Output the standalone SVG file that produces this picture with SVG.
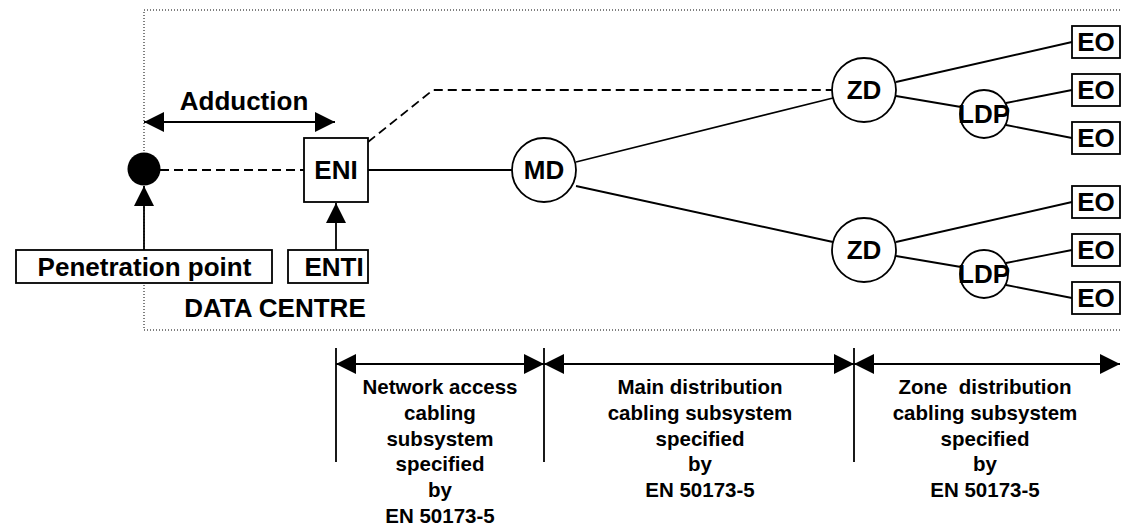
<svg xmlns="http://www.w3.org/2000/svg" width="1122" height="526" viewBox="0 0 1122 526">
<style>
.t{font-family:"Liberation Sans",Arial,sans-serif;font-weight:bold;fill:#000;text-anchor:middle}
.n{font-size:26px}
.s{font-size:20.5px;white-space:pre}
.ln{stroke:#000;stroke-width:1.8;fill:none}
.ds{stroke:#000;stroke-width:1.8;fill:none;stroke-dasharray:9 5}
.bx{fill:#fff;stroke:#000;stroke-width:1.8}
</style>
<defs>
<marker id="ah" markerUnits="userSpaceOnUse" markerWidth="20" markerHeight="20" refX="20" refY="10" orient="auto-start-reverse">
<path d="M0,0 L20,10 L0,20 z" fill="#000"/>
</marker>
</defs>
<rect x="144" y="10" width="1000" height="320" fill="none" stroke="#000" stroke-width="1" stroke-dasharray="1 2"/>
<g id="connectors">
<line class="ln" x1="144" y1="122" x2="335" y2="122" marker-start="url(#ah)" marker-end="url(#ah)"/>
<line class="ds" x1="160" y1="170" x2="304" y2="170"/>
<line class="ln" x1="144" y1="250" x2="144" y2="186" marker-end="url(#ah)"/>
<line class="ln" x1="336" y1="250" x2="336" y2="203" marker-end="url(#ah)"/>
<polyline class="ds" points="368,142 433,90 832,90"/>
<line class="ln" x1="368" y1="170" x2="512" y2="170"/>
<line class="ln" x1="576" y1="162" x2="833" y2="98"/>
<line class="ln" x1="576" y1="186" x2="833" y2="242"/>
<line class="ln" x1="896" y1="82" x2="1072" y2="42"/>
<line class="ln" x1="896" y1="96" x2="961" y2="107"/>
<line class="ln" x1="1006" y1="103" x2="1072" y2="90"/>
<line class="ln" x1="1006" y1="125" x2="1072" y2="138"/>
<line class="ln" x1="896" y1="242" x2="1072" y2="202"/>
<line class="ln" x1="896" y1="256" x2="961" y2="267"/>
<line class="ln" x1="1006" y1="263" x2="1072" y2="250"/>
<line class="ln" x1="1006" y1="285" x2="1072" y2="298"/>
<line class="ln" x1="336" y1="348" x2="336" y2="462"/>
<line class="ln" x1="544" y1="348" x2="544" y2="462"/>
<line class="ln" x1="854" y1="348" x2="854" y2="462"/>
<line class="ln" x1="336" y1="364" x2="544" y2="364" marker-start="url(#ah)" marker-end="url(#ah)"/>
<line class="ln" x1="544" y1="364" x2="854" y2="364" marker-start="url(#ah)" marker-end="url(#ah)"/>
<line class="ln" x1="854" y1="364" x2="1120" y2="364" marker-start="url(#ah)" marker-end="url(#ah)"/>
</g>
<g id="adduction"><text class="t n" x="244" y="110">Adduction</text></g>
<g id="penetration-dot"><circle cx="144" cy="169" r="16.5" fill="#000"/></g>
<g id="eni"><rect class="bx" x="304" y="138" width="64" height="64"/><text class="t n" x="336" y="179">ENI</text></g>
<g id="penetration-point"><rect class="bx" x="16" y="250" width="256" height="33"/><text class="t n" x="144.5" y="276">Penetration point</text></g>
<g id="enti"><rect class="bx" x="288" y="250" width="80" height="33"/><text class="t n" x="334" y="276">ENTI</text></g>
<g id="data-centre"><text class="t n" x="275" y="317">DATA CENTRE</text></g>
<g id="md"><circle class="bx" cx="544" cy="170" r="32"/><text class="t n" x="544" y="179">MD</text></g>
<g id="zd1"><circle class="bx" cx="864" cy="90" r="32"/><text class="t n" x="864" y="99">ZD</text></g>
<g id="zd2"><circle class="bx" cx="864" cy="250" r="32"/><text class="t n" x="864" y="259">ZD</text></g>
<g id="ldp1"><circle class="bx" cx="984" cy="114" r="24"/><text class="t n" x="984" y="123">LDP</text></g>
<g id="ldp2"><circle class="bx" cx="984" cy="274" r="24"/><text class="t n" x="984" y="283">LDP</text></g>
<g id="eo1"><rect class="bx" x="1072" y="26" width="48" height="32"/><text class="t n" x="1096" y="51">EO</text></g>
<g id="eo2"><rect class="bx" x="1072" y="74" width="48" height="32"/><text class="t n" x="1096" y="99">EO</text></g>
<g id="eo3"><rect class="bx" x="1072" y="122" width="48" height="32"/><text class="t n" x="1096" y="147">EO</text></g>
<g id="eo4"><rect class="bx" x="1072" y="186" width="48" height="32"/><text class="t n" x="1096" y="211">EO</text></g>
<g id="eo5"><rect class="bx" x="1072" y="234" width="48" height="32"/><text class="t n" x="1096" y="259">EO</text></g>
<g id="eo6"><rect class="bx" x="1072" y="282" width="48" height="32"/><text class="t n" x="1096" y="307">EO</text></g>
<g id="label-network">
<text class="t s" x="440" y="394">Network access</text>
<text class="t s" x="440" y="420">cabling</text>
<text class="t s" x="440" y="446">subsystem</text>
<text class="t s" x="440" y="471">specified</text>
<text class="t s" x="440" y="497">by</text>
<text class="t s" x="440" y="523">EN 50173-5</text>
</g>
<g id="label-main">
<text class="t s" x="700" y="394">Main distribution</text>
<text class="t s" x="700" y="420">cabling subsystem</text>
<text class="t s" x="700" y="446">specified</text>
<text class="t s" x="700" y="471">by</text>
<text class="t s" x="700" y="497">EN 50173-5</text>
</g>
<g id="label-zone">
<text class="t s" x="985" y="394">Zone  distribution</text>
<text class="t s" x="985" y="420">cabling subsystem</text>
<text class="t s" x="985" y="446">specified</text>
<text class="t s" x="985" y="471">by</text>
<text class="t s" x="985" y="497">EN 50173-5</text>
</g>
</svg>
